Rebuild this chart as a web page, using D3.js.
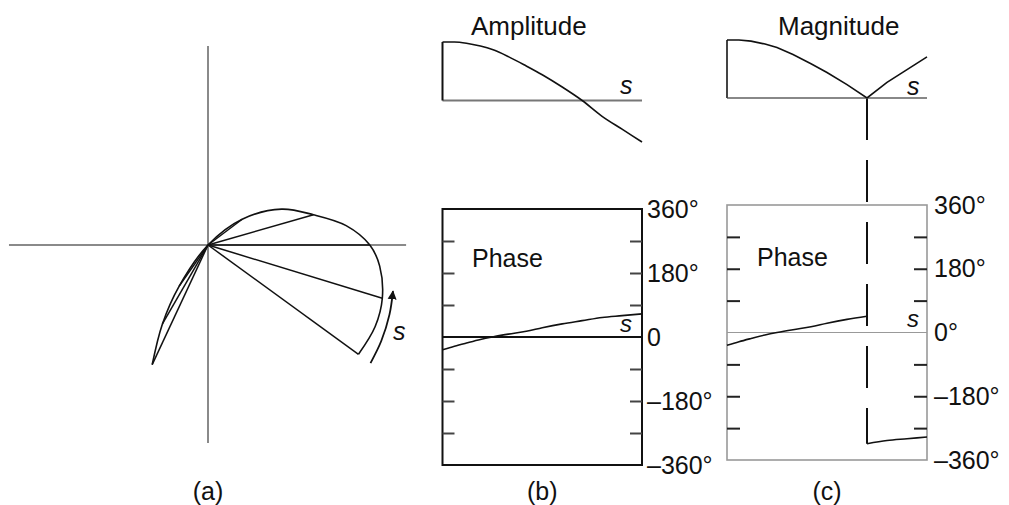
<!DOCTYPE html>
<html>
<head>
<meta charset="utf-8">
<script src="https://cdn.jsdelivr.net/npm/d3@7"></script>
<style>
  html, body { margin: 0; padding: 0; background: #fff; }
  svg { display: block; }
  text { font-family: "Liberation Sans", Arial, Helvetica, sans-serif; fill: #111; }
</style>
</head>
<body>
<svg id="chart" width="1009" height="505"></svg>
<script>
// Spectrum samples along the frequency variable s (0 … 1)
const s         = [0, 0.06, 0.12, 0.19, 0.25, 0.33, 0.42, 0.5, 0.6, 0.7, 0.8, 0.9, 1.0];
const amplitude = [1.00, 1.00, 0.98, 0.93, 0.87, 0.75, 0.59, 0.44, 0.23, 0.0, -0.27, -0.49, -0.71];
const phase     = [-36, -26, -17, -7, 0, 8, 16, 26, 37, 46, 55, 60, 65];   // degrees

// samples whose phasors are drawn as spokes from the origin in (a)
const spokeIndex = [0, 2, 4, 6, 8, 10, 11, 12];

// direction arrow beside the locus, as [radius, angle°]
const arrowPolar = [[1.08, -36], [1.065, -29], [1.045, -21], [1.025, -14]];

// phase axes
const phaseTickValues  = [-270, -180, -90, 90, 180, 270];
const phaseLabelValues = [360, 180, 0, -180, -360];
const phaseLabelsB     = ["360°", "180°", "0", "\u2013180°", "\u2013360°"];
const phaseLabelsC     = ["360°", "180°", "0°", "\u2013180°", "\u2013360°"];
const panelLabels      = ["(a)", "(b)", "(c)"];

const svg = d3.select("#chart");
const rad = d => d * Math.PI / 180;

/* ---------- (a) phasor locus ---------- */
const px = d3.scaleLinear([-1, 1], [22, 394]);
const py = d3.scaleLinear([-1, 1], [431, 59]);
const gA = svg.append("g");

gA.append("line").attr("x1", px(-1.07)).attr("x2", px(1.065))
  .attr("y1", py(0)).attr("y2", py(0))
  .attr("stroke", "#8a8a8a").attr("stroke-width", 2);
gA.append("line").attr("x1", px(0)).attr("x2", px(0))
  .attr("y1", py(1.07)).attr("y2", py(-1.065))
  .attr("stroke", "#8a8a8a").attr("stroke-width", 2);

const locus = s.map((_, i) => [
  px(amplitude[i] * Math.cos(rad(phase[i]))),
  py(amplitude[i] * Math.sin(rad(phase[i])))
]);

gA.selectAll("line.spoke").data(spokeIndex).join("line")
  .attr("class", "spoke")
  .attr("x1", px(0)).attr("y1", py(0))
  .attr("x2", i => locus[i][0]).attr("y2", i => locus[i][1])
  .attr("stroke", "#111").attr("stroke-width", 1.5);

gA.append("path")
  .attr("d", d3.line().curve(d3.curveCatmullRom.alpha(0.5))(locus))
  .attr("fill", "none").attr("stroke", "#111").attr("stroke-width", 1.6);

svg.append("defs").append("marker")
  .attr("id", "head").attr("viewBox", "0 0 10 10")
  .attr("refX", 9).attr("refY", 5)
  .attr("markerWidth", 5).attr("markerHeight", 7)
  .attr("markerUnits", "strokeWidth")
  .attr("orient", "auto")
  .append("path").attr("d", "M0,0 L10,5 L0,10 Z").attr("fill", "#111");

gA.append("path")
  .attr("d", d3.line().curve(d3.curveCatmullRom)(arrowPolar.map(([r, a]) =>
    [px(r * Math.cos(rad(a))), py(r * Math.sin(rad(a)))])))
  .attr("fill", "none").attr("stroke", "#111").attr("stroke-width", 1.8)
  .attr("marker-end", "url(#head)");

gA.append("text").attr("x", 393).attr("y", 340)
  .attr("font-size", 25).attr("font-style", "italic").text("s");

/* ---------- (b) amplitude and phase ---------- */
const xB    = d3.scaleLinear([0, 1], [442.5, 642]);
const yAmp  = d3.scaleLinear([0, 1], [100.5, 42]);
const yPhB  = d3.scaleLinear([-360, 360], [465, 209]);
const gB = svg.append("g");

gB.append("text").attr("x", 471).attr("y", 35).attr("font-size", 26).text("Amplitude");
gB.append("line").attr("x1", xB(0)).attr("x2", xB(1)).attr("y1", yAmp(0)).attr("y2", yAmp(0))
  .attr("stroke", "#777").attr("stroke-width", 2);
gB.append("line").attr("x1", xB(0)).attr("x2", xB(0)).attr("y1", yAmp(0)).attr("y2", yAmp(1))
  .attr("stroke", "#111").attr("stroke-width", 2);
gB.append("path")
  .attr("d", d3.line().x((d, i) => xB(s[i])).y(d => yAmp(d)).curve(d3.curveMonotoneX)(amplitude))
  .attr("fill", "none").attr("stroke", "#111").attr("stroke-width", 1.6);
gB.append("text").attr("x", 620).attr("y", 94).attr("font-size", 25)
  .attr("font-style", "italic").text("s");

// phase box
gB.append("rect").attr("x", xB(0)).attr("y", yPhB(360))
  .attr("width", xB(1) - xB(0)).attr("height", yPhB(-360) - yPhB(360))
  .attr("fill", "none").attr("stroke", "#111").attr("stroke-width", 2);

const tickL = gB.append("g").attr("transform", `translate(${xB(0)},0)`)
  .call(d3.axisRight(yPhB).tickValues(phaseTickValues).tickSize(12).tickFormat(""));
const tickR = gB.append("g").attr("transform", `translate(${xB(1)},0)`)
  .call(d3.axisLeft(yPhB).tickValues(phaseTickValues).tickSize(12).tickFormat(""));
const labB = gB.append("g").attr("transform", `translate(${xB(1)},0)`)
  .call(d3.axisRight(yPhB).tickValues(phaseLabelValues).tickSize(0).tickPadding(5)
    .tickFormat(d => phaseLabelsB[phaseLabelValues.indexOf(d)]));
[tickL, tickR, labB].forEach(g => g.select(".domain").remove());
gB.selectAll(".tick line").attr("stroke", "#444").attr("stroke-width", 2);
labB.selectAll("text").attr("font-size", 25).attr("fill", "#111")
  .attr("font-family", "Liberation Sans, Arial, sans-serif");

gB.append("line").attr("x1", xB(0)).attr("x2", xB(1)).attr("y1", yPhB(0)).attr("y2", yPhB(0))
  .attr("stroke", "#111").attr("stroke-width", 2);
gB.append("path")
  .attr("d", d3.line().x((d, i) => xB(s[i])).y(d => yPhB(d)).curve(d3.curveMonotoneX)(phase))
  .attr("fill", "none").attr("stroke", "#111").attr("stroke-width", 1.6);
gB.append("text").attr("x", 472).attr("y", 267).attr("font-size", 25).text("Phase");
gB.append("text").attr("x", 620).attr("y", 332).attr("font-size", 24)
  .attr("font-style", "italic").text("s");

/* ---------- (c) magnitude and wrapped phase ---------- */
const xC   = d3.scaleLinear([0, 1], [727, 927]);
const yMag = d3.scaleLinear([0, 1], [98, 40]);
const yPhC = d3.scaleLinear([-360, 360], [460, 205]);
const gC = svg.append("g");

const magnitude = amplitude.map(Math.abs);
const jump = amplitude.findIndex(a => a <= 0);            // sign change of the amplitude
const phaseWrapped = phase.map((p, i) => i < jump ? p : p - 360);

gC.append("text").attr("x", 778).attr("y", 35).attr("font-size", 26).text("Magnitude");

// dashed marker from the magnitude zero down to the phase jump
gC.append("line").attr("x1", xC(s[jump])).attr("x2", xC(s[jump]))
  .attr("y1", yMag(0)).attr("y2", yPhC(phaseWrapped[jump]))
  .attr("stroke", "#111").attr("stroke-width", 2).attr("stroke-dasharray", "42 20");

gC.append("line").attr("x1", xC(0)).attr("x2", xC(1)).attr("y1", yMag(0)).attr("y2", yMag(0))
  .attr("stroke", "#888").attr("stroke-width", 2);
gC.append("line").attr("x1", xC(0)).attr("x2", xC(0)).attr("y1", yMag(0)).attr("y2", yMag(1))
  .attr("stroke", "#444").attr("stroke-width", 2);
gC.append("path")
  .attr("d", d3.line().x((d, i) => xC(s[i])).y(d => yMag(d)).curve(d3.curveLinear)(magnitude))
  .attr("fill", "none").attr("stroke", "#111").attr("stroke-width", 1.6);
gC.append("text").attr("x", 907).attr("y", 95).attr("font-size", 25)
  .attr("font-style", "italic").text("s");

gC.append("rect").attr("x", xC(0)).attr("y", yPhC(360))
  .attr("width", xC(1) - xC(0)).attr("height", yPhC(-360) - yPhC(360))
  .attr("fill", "none").attr("stroke", "#999").attr("stroke-width", 1.6);

const tickLC = gC.append("g").attr("transform", `translate(${xC(0)},0)`)
  .call(d3.axisRight(yPhC).tickValues(phaseTickValues).tickSize(13).tickFormat(""));
const tickRC = gC.append("g").attr("transform", `translate(${xC(1)},0)`)
  .call(d3.axisLeft(yPhC).tickValues(phaseTickValues).tickSize(13).tickFormat(""));
const labC = gC.append("g").attr("transform", `translate(${xC(1)},0)`)
  .call(d3.axisRight(yPhC).tickValues(phaseLabelValues).tickSize(0).tickPadding(7)
    .tickFormat(d => phaseLabelsC[phaseLabelValues.indexOf(d)]));
[tickLC, tickRC, labC].forEach(g => g.select(".domain").remove());
gC.selectAll(".tick line").attr("stroke", "#222").attr("stroke-width", 2);
labC.selectAll("text").attr("font-size", 25).attr("fill", "#111")
  .attr("font-family", "Liberation Sans, Arial, sans-serif");

gC.append("line").attr("x1", xC(0)).attr("x2", xC(1)).attr("y1", yPhC(0)).attr("y2", yPhC(0))
  .attr("stroke", "#999").attr("stroke-width", 1);

const lineC = d3.line().x(i => xC(s[i])).y(i => yPhC(phaseWrapped[i])).curve(d3.curveMonotoneX);
const before = d3.range(0, jump);
before.push(jump);
gC.append("path")
  .attr("d", d3.line().x(i => xC(s[i])).y(i => yPhC(phase[i])).curve(d3.curveMonotoneX)(before))
  .attr("fill", "none").attr("stroke", "#111").attr("stroke-width", 1.6);
gC.append("path")
  .attr("d", lineC(d3.range(jump, s.length)))
  .attr("fill", "none").attr("stroke", "#111").attr("stroke-width", 1.6);
gC.append("text").attr("x", 757).attr("y", 266).attr("font-size", 25).text("Phase");
gC.append("text").attr("x", 907).attr("y", 327).attr("font-size", 24)
  .attr("font-style", "italic").text("s");

/* ---------- panel captions ---------- */
svg.selectAll("text.caption").data(panelLabels).join("text")
  .attr("class", "caption")
  .attr("x", (d, i) => [px(0), xB(0.5), xC(0.5)][i])
  .attr("y", 500).attr("text-anchor", "middle").attr("font-size", 25)
  .text(d => d);
</script>
</body>
</html>
